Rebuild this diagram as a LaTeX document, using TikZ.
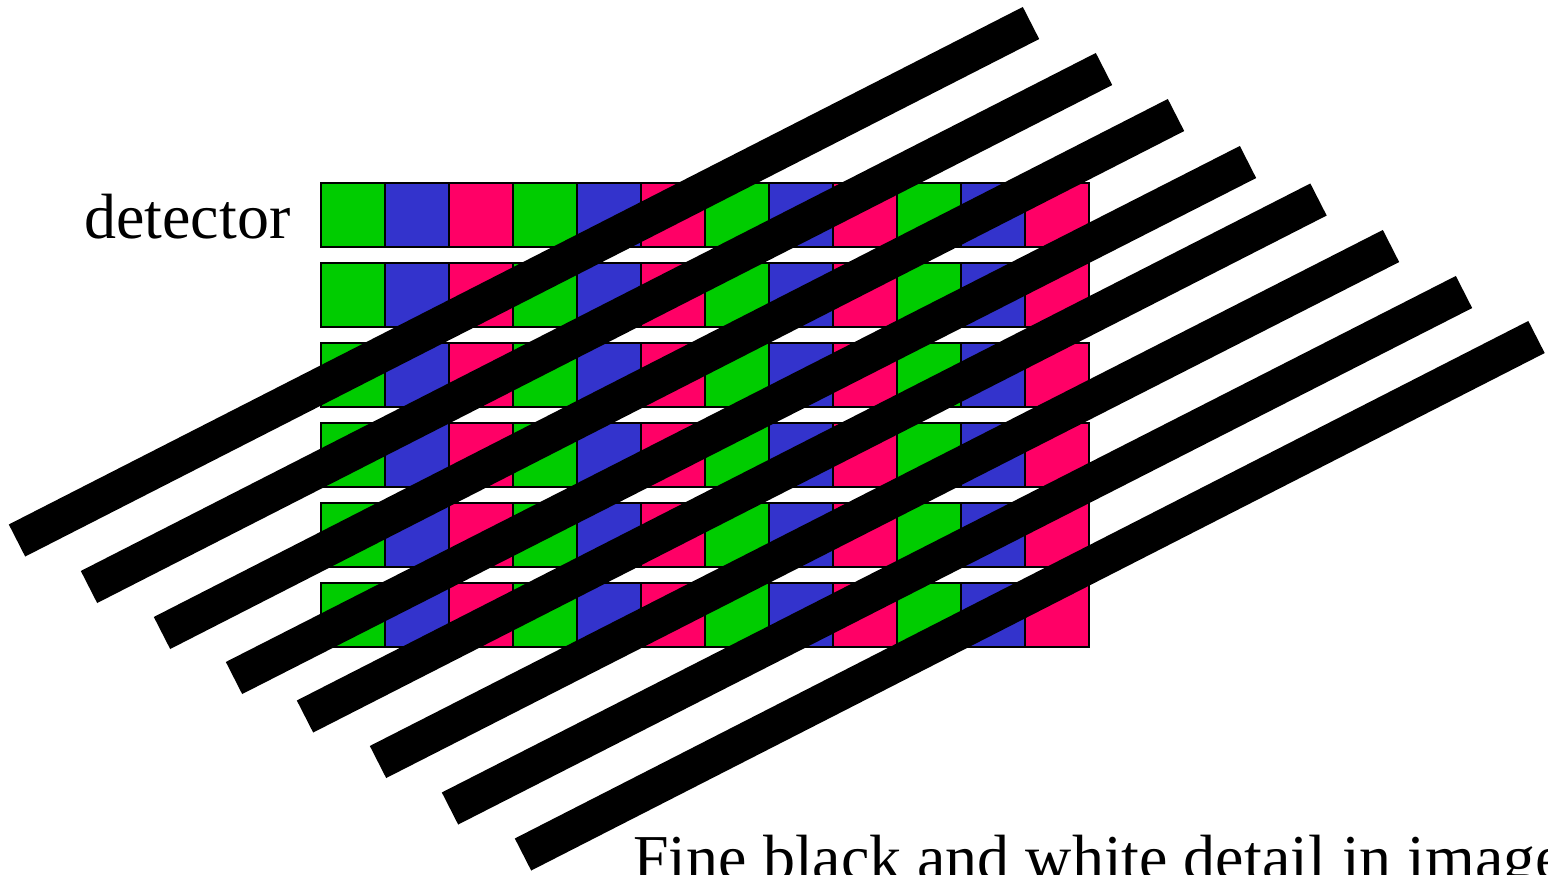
\documentclass[tikz,border=0pt]{standalone}
\usepackage{fontspec}
\setmainfont{Liberation Serif}
\usetikzlibrary{positioning}
\definecolor{cellgreen}{RGB}{0,204,0}
\definecolor{cellblue}{RGB}{51,51,204}
\definecolor{cellpink}{RGB}{255,0,102}

\begin{document}
\begin{tikzpicture}[x=0.02cm, y=-0.02cm,
  cell/.style={draw=black, line width=1pt},
  stripe/.style={draw=black, line width=0.72cm},
  txt/.style={inner sep=0pt, anchor=base west, font=\fontsize{36.4}{40}\selectfont}
]
  \useasboundingbox (0,0) rectangle (1548,875);

  % detector pixels
  \foreach \row in {0,...,5}
    \foreach \grp in {0,...,3}
      \foreach \k/\clr in {0/cellgreen,1/cellblue,2/cellpink}
        \filldraw[cell, fill=\clr] ({321+192*\grp+64*\k},{183+80*\row}) rectangle ++(64,64);

  % black and white detail
  \foreach \ax/\ay/\bx/\by in {17/540.5/1031/23, 89/587/1104/69, 162/633/1176/115,
      234/678/1248/162, 305/716.5/1318.5/199.5, 378/762/1391/246,
      450/808.5/1464/292, 523/854.5/1536.5/337}
    \draw[stripe] (\ax,\ay) -- (\bx,\by);

  \node[txt] (detector) at (84,238) {detector};
  \node[txt] (caption) at (633,879) {Fine black and white detail in image};
\end{tikzpicture}
\end{document}
